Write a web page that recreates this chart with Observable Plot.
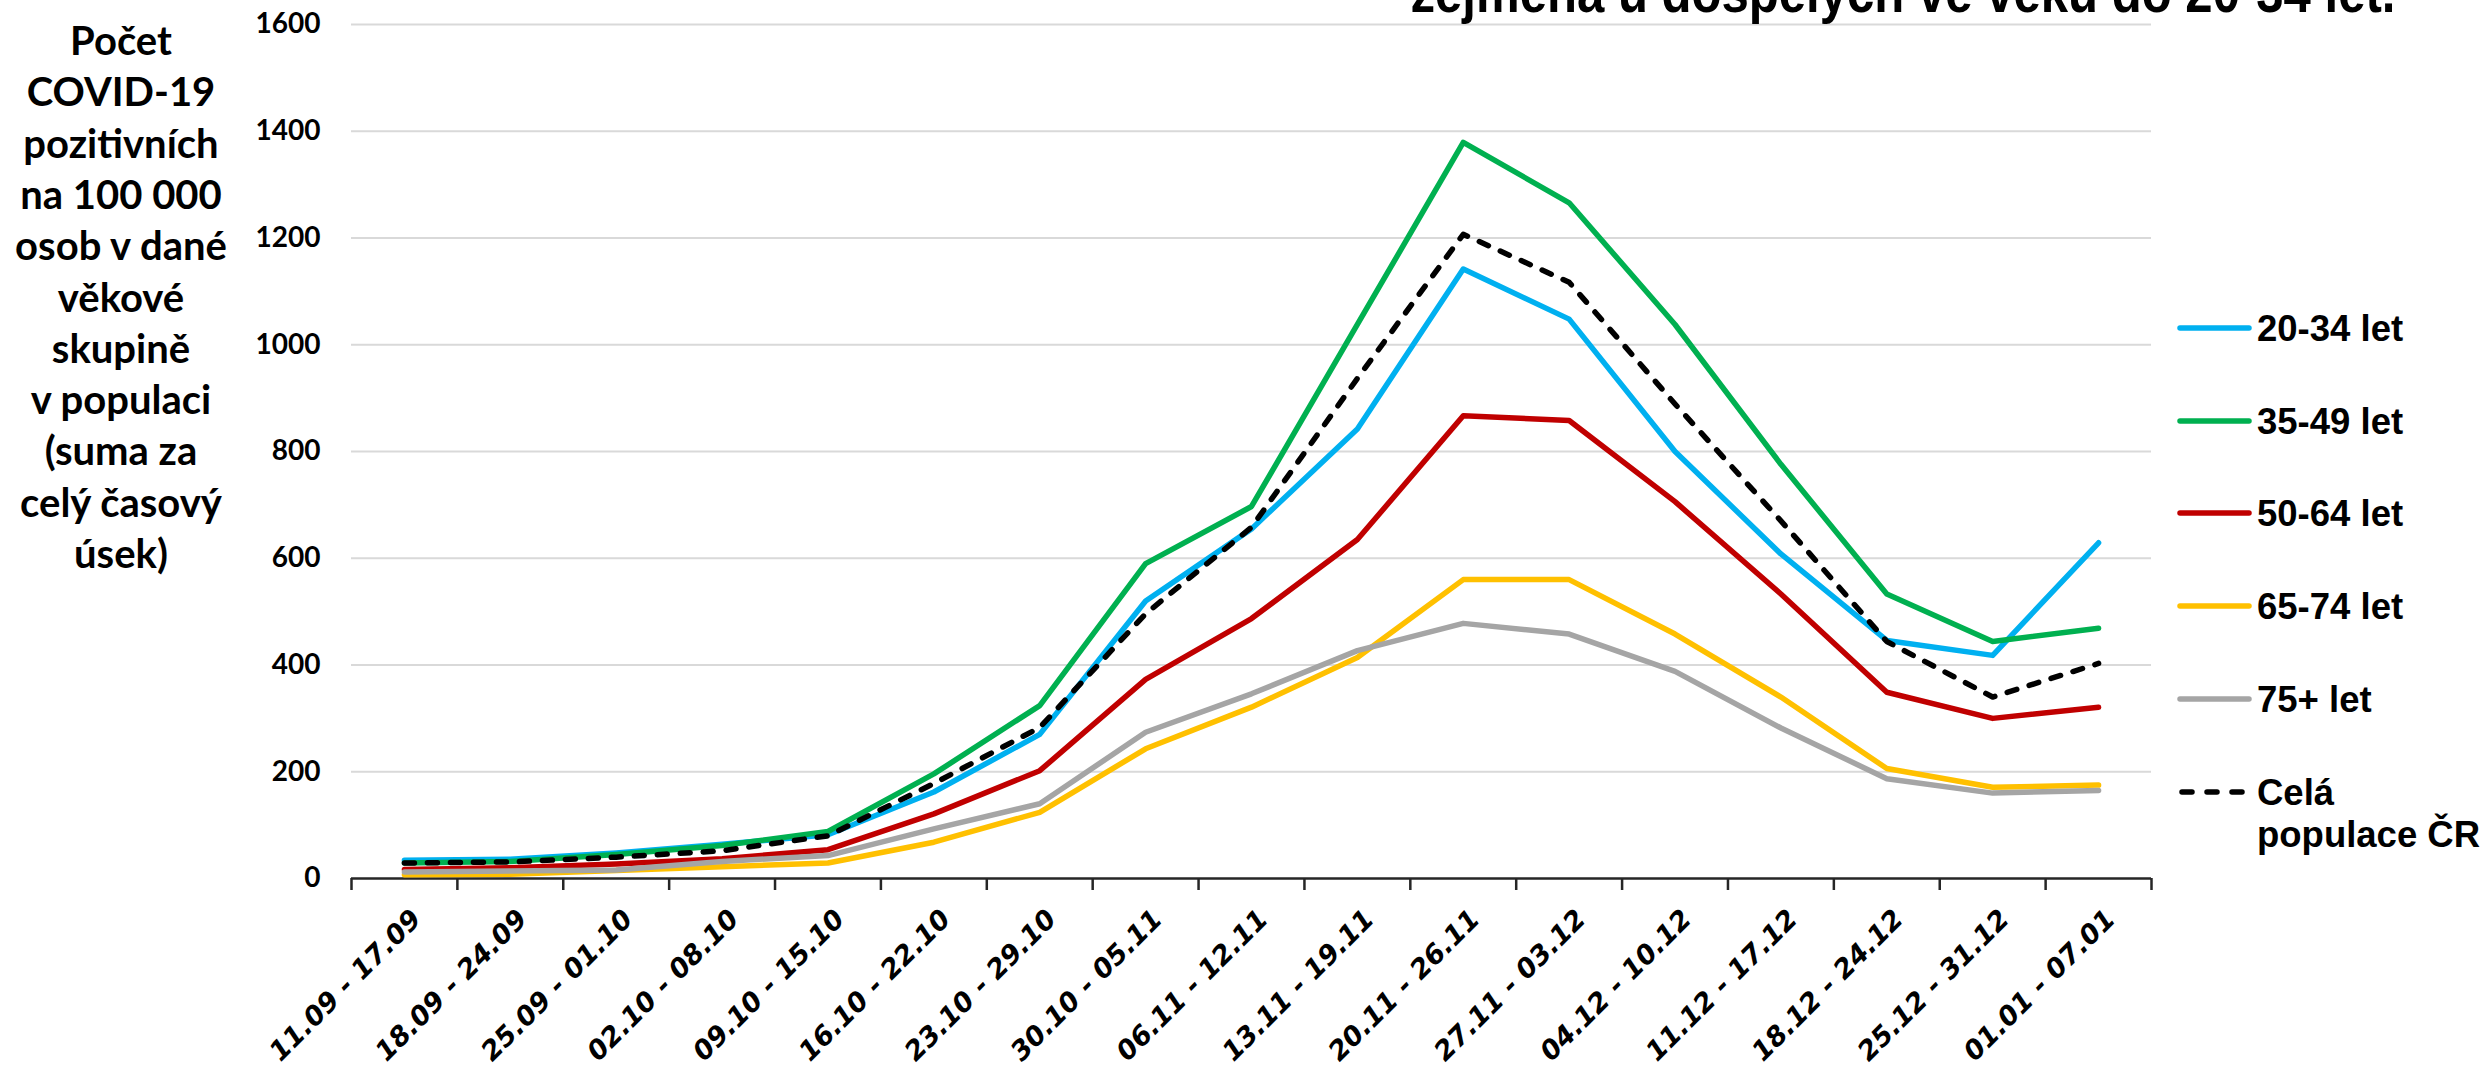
<!DOCTYPE html>
<html>
<head>
<meta charset="utf-8">
<script src="https://cdn.jsdelivr.net/npm/d3@7"></script>
<script src="https://cdn.jsdelivr.net/npm/@observablehq/plot@0.6"></script>
<style>
  html, body { margin: 0; padding: 0; background: #fff; }
  #wrap { position: relative; width: 2491px; height: 1074px; overflow: hidden; }
  #overlay { position: absolute; left: 0; top: 0; pointer-events: none; }
  #chart { position: absolute; left: 0; top: 0; }
</style>
</head>
<body>
<div id="wrap"><div id="chart"></div><svg id="overlay" width="2491" height="1074"></svg></div>
<script>
// ---- data ----
const categories = ["11.09 - 17.09", "18.09 - 24.09", "25.09 - 01.10", "02.10 - 08.10", "09.10 - 15.10", "16.10 - 22.10", "23.10 - 29.10", "30.10 - 05.11", "06.11 - 12.11", "13.11 - 19.11", "20.11 - 26.11", "27.11 - 03.12", "04.12 - 10.12", "11.12 - 17.12", "18.12 - 24.12", "25.12 - 31.12", "01.01 - 07.01"];
const age20_34 = [34, 36, 48, 64, 82, 162, 270, 520, 655, 842, 1142, 1048, 800, 608, 446, 418, 629];
const age35_49 = [29, 32, 45, 62, 88, 196, 324, 590, 697, 1038, 1379, 1266, 1038, 776, 533, 444, 469];
const age50_64 = [17, 20, 27, 37, 54, 121, 202, 373, 487, 635, 867, 858, 706, 533, 349, 300, 321];
const age65_74 = [7, 8, 15, 22, 29, 68, 124, 243, 321, 414, 560, 560, 458, 340, 206, 171, 175];
const age75plus = [12, 14, 16, 32, 43, 93, 140, 274, 346, 427, 478, 458, 388, 282, 187, 160, 165];
const celaPopulace = [29, 31, 40, 52, 80, 178, 283, 496, 658, 937, 1207, 1117, 889, 670, 444, 340, 403];
const yTicks = [0, 200, 400, 600, 800, 1000, 1200, 1400, 1600];
const seriesNames = ["20-34 let", "35-49 let", "50-64 let", "65-74 let", "75+ let", "Celá populace ČR"];
const seriesColors = ["#00B0F0", "#00B050", "#C00000", "#FFC000", "#A5A5A5", "#000000"];
const titleText = "zejména u dospělých ve věku do 20-34 let.";
const yTitleLines = ["Počet", "COVID-19", "pozitivních", "na 100 000", "osob v dané", "věkové", "skupině", "v populaci", "(suma za", "celý časový", "úsek)"];

const seriesValues = [age20_34, age35_49, age50_64, age65_74, age75plus, celaPopulace];
const rows = seriesValues.map(vals => vals.map((v, i) => ({i, v})));

const lineMarks = seriesValues.map((vals, k) => Plot.line(rows[k], {
  x: d => d.i + 0.5, y: "v",
  stroke: seriesColors[k], strokeWidth: 5.5,
  strokeLinejoin: "round", strokeLinecap: "round",
  strokeDasharray: k === 5 ? "10,13" : null
}));

const chart = Plot.plot({
  width: 2491, height: 1074,
  marginLeft: 351, marginRight: 340, marginTop: 24, marginBottom: 196,
  style: {background: "#fff", color: "#000", overflow: "visible"},
  x: {domain: [0, categories.length]},
  y: {domain: [0, 1600]},
  marks: [
    Plot.gridY(yTicks.filter(d => d > 0), {stroke: "#d9d9d9", strokeOpacity: 1, strokeWidth: 2}),
    Plot.axisY(yTicks, {tickSize: 0, tickPadding: 31, fontSize: 28, fontWeight: "bold", fontFamily: "Lato", label: null, tickFormat: d => String(d)}),
    Plot.axisX(d3.range(categories.length + 1), {tickSize: 12, tickFormat: () => "", stroke: "#262626", strokeWidth: 2.5, label: null}),
    Plot.text(categories, {
      x: (d, i) => i + 0.5, y: () => 0, text: d => d,
      rotate: -45, textAnchor: "end", lineAnchor: "middle", dx: 12, dy: 36,
      fontFamily: "DejaVu Sans", fontStyle: "italic", fontWeight: "bold", fontSize: 27, fill: "#000"
    }),
    Plot.ruleY([0], {stroke: "#262626", strokeWidth: 2.5}),
    ...lineMarks
  ]
});
document.getElementById("chart").appendChild(chart);

// ---- overlay texts: title, y-title, legend ----
const ov = d3.select("#overlay");
ov.append("text").attr("x", 1903).attr("y", 12).attr("text-anchor", "middle")
  .attr("textLength", 985).attr("lengthAdjust", "spacingAndGlyphs")
  .attr("font-family", "'Liberation Sans', Arial, sans-serif")
  .attr("font-weight", "bold").attr("font-size", 58).text(titleText);

const yt = ov.append("text").attr("text-anchor", "middle")
  .attr("font-family", "Lato, sans-serif").attr("font-weight", "bold").attr("font-size", 40);
yTitleLines.forEach((l, k) => yt.append("tspan").attr("x", 121).attr("y", 55 + k * 51.3).text(l));

const legY = [328, 421, 513, 606, 699, 792];
seriesNames.forEach((name, k) => {
  const g = ov.append("g");
  g.append("line").attr("x1", k === 5 ? 2182 : 2180).attr("x2", k === 5 ? 2243 : 2249).attr("y1", legY[k]).attr("y2", legY[k])
    .attr("stroke", seriesColors[k]).attr("stroke-width", 5.5).attr("stroke-linecap", "round")
    .attr("stroke-dasharray", k === 5 ? "10,15" : null);
  const t = g.append("text").attr("font-family", "'Liberation Sans', Arial, sans-serif")
    .attr("font-weight", "bold").attr("font-size", 36.5);
  if (k === 5) {
    t.append("tspan").attr("x", 2257).attr("y", legY[k] + 13).text("Celá");
    t.append("tspan").attr("x", 2257).attr("y", legY[k] + 55).text("populace ČR");
  } else {
    t.attr("x", 2257).attr("y", legY[k] + 13).text(name);
  }
});
</script>
</body>
</html>
